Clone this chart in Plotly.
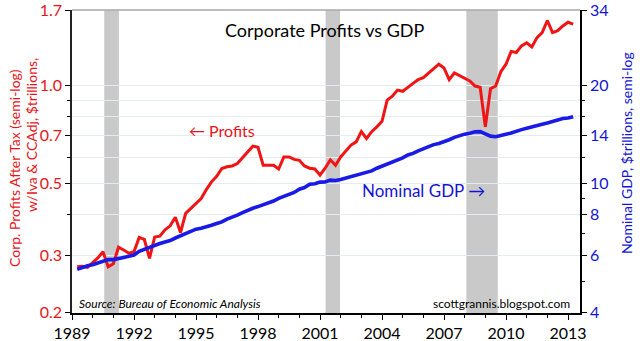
import plotly.graph_objects as go
import numpy as np

# ---------------- data ----------------
start_year = 1989.25          # first quarterly observation (plotted position)
quarter_step = 0.25

profits = [  # Corporate profits after tax w/ IVA & CCAdj, $ trillions
    0.277, 0.278, 0.276,
    0.285, 0.295, 0.308, 0.277,
    0.283, 0.318, 0.312, 0.305,
    0.308, 0.341, 0.336, 0.294,
    0.342, 0.344, 0.360, 0.370,
    0.393, 0.353, 0.404, 0.418,
    0.432, 0.449, 0.478, 0.505,
    0.525, 0.555, 0.562, 0.565,
    0.575, 0.598, 0.625, 0.650,
    0.645, 0.568, 0.568, 0.568,
    0.553, 0.602, 0.602, 0.592,
    0.588, 0.565, 0.556, 0.553,
    0.530, 0.556, 0.590, 0.568,
    0.602, 0.630, 0.655, 0.670,
    0.720, 0.686, 0.720, 0.745,
    0.775, 0.900, 0.925, 0.966,
    0.958, 0.985, 1.010, 1.040,
    1.055, 1.090, 1.125, 1.160,
    1.130, 1.040, 1.090, 1.070,
    1.055, 1.030, 0.994, 0.985,
    0.745, 0.975, 0.994, 1.100,
    1.160, 1.270, 1.260, 1.320,
    1.350, 1.310, 1.400, 1.450,
    1.580, 1.450, 1.470, 1.520,
    1.560, 1.540,
]

gdp = [  # Nominal GDP, $ trillions
    5.44, 5.52, 5.58, 5.62,
    5.70, 5.78, 5.83, 5.83,
    5.86, 5.92, 5.97, 6.02,
    6.18, 6.27, 6.35, 6.46,
    6.53, 6.60, 6.67, 6.79,
    6.89, 7.02, 7.11, 7.23,
    7.28, 7.34, 7.43, 7.52,
    7.61, 7.76, 7.85, 7.98,
    8.12, 8.26, 8.38, 8.48,
    8.58, 8.68, 8.82, 8.99,
    9.10, 9.22, 9.37, 9.59,
    9.70, 9.93, 9.97, 10.08,
    10.09, 10.22, 10.20, 10.27,
    10.37, 10.49, 10.60, 10.67,
    10.78, 10.91, 11.12, 11.27,
    11.45, 11.62, 11.78, 11.96,
    12.21, 12.35, 12.58, 12.76,
    13.00, 13.14, 13.25, 13.40,
    13.60, 13.83, 14.00, 14.15,
    14.25, 14.38, 14.40, 14.15,
    13.95, 13.89, 13.97, 14.14,
    14.27, 14.47, 14.61, 14.76,
    14.87, 15.01, 15.18, 15.32,
    15.48, 15.59, 15.81, 15.85,
    16.00,
]

recessions = [(1990.56, 1991.27), (2001.27, 2001.97), (2008.08, 2009.60)]

x_ticks = [1989, 1992, 1995, 1998, 2001, 2004, 2007, 2010, 2013]
left_ticks = [0.2, 0.3, 0.5, 0.7, 1.0, 1.7]
left_ticktext = ["0.2", "0.3", "0.5", "0.7", "1.0", "1.7"]
left_minor = [0.4, 0.6, 0.8, 0.9]
right_ticks = [4, 6, 8, 10, 14, 20, 34]
right_minor = [5, 7, 9, 12, 16, 18]

dates_p = [start_year + quarter_step * i for i in range(len(profits))]
dates_g = [start_year + quarter_step * i for i in range(len(gdp))]

# ---------------- layout helpers ----------------
W, H = 640, 341
L, R, T, B = 72, 60, 10, 28
PW, PH = W - L - R, H - T - B
def px(x):
    return (x - L) / PW
def py(y):
    return (H - B - y) / PH

EPS = 0.0004
FONT = "Lato"
RED = "#e8141a"
BLUE = "#1414d2"
GRID = "#e4ecef"

fig = go.Figure()
fig.add_trace(go.Scatter(x=dates_g, y=gdp, yaxis="y2", mode="lines",
                         line=dict(color="#1a1ae6", width=3.6), hoverinfo="skip"))
fig.add_trace(go.Scatter(x=dates_p, y=profits, yaxis="y", mode="lines",
                         line=dict(color="#f01414", width=3), hoverinfo="skip"))

for a, b in recessions:
    fig.add_shape(type="rect", xref="x", yref="paper", x0=a, x1=b, y0=0, y1=1,
                  fillcolor="#c9c9c9", line=dict(width=0), layer="between")

# top border (gray)
fig.add_shape(type="line", xref="paper", yref="paper", x0=0, x1=1, y0=1, y1=1,
              line=dict(color="#a9a9a9", width=1.5))

fig.update_layout(
    template="none",
    width=W, height=H,
    margin=dict(l=L, r=R, t=T, b=B, autoexpand=False),
    paper_bgcolor="white", plot_bgcolor="white",
    showlegend=False,
    font=dict(family=FONT),
    xaxis=dict(
        range=[1989, 2013.58], tickvals=x_ticks, ticktext=[str(v) for v in x_ticks],
        ticks="outside", ticklen=5, tickcolor="black", automargin=False,
        showline=True, linecolor="black", linewidth=1.5,
        showgrid=False, zeroline=False, ticklabeloverflow="allow",
        tickfont=dict(size=16, color="black", family=FONT),
        minor=dict(dtick=1, tick0=1989, ticks="outside", ticklen=3, tickcolor="black", showgrid=False),
    ),
    yaxis=dict(
        type="log", range=[np.log10(0.2) - EPS, np.log10(1.7) + EPS],
        tickvals=left_ticks, ticktext=left_ticktext, automargin=False,
        ticks="outside", ticklen=5, tickcolor="black",
        showline=True, linecolor="#222222", linewidth=1.5,
        showgrid=True, gridcolor=GRID, gridwidth=1,
        zeroline=False, ticklabeloverflow="allow",
        tickfont=dict(size=16, color=RED, family=FONT),
        minor=dict(tickvals=left_minor, ticks="outside", ticklen=3, tickcolor="black",
                   showgrid=True, gridcolor=GRID, gridwidth=1),
    ),
    yaxis2=dict(
        type="log", range=[np.log10(4) - EPS, np.log10(34) + EPS], overlaying="y", side="right",
        tickvals=right_ticks, ticktext=[str(v) for v in right_ticks], automargin=False,
        ticks="outside", ticklen=5, tickcolor="black",
        showline=True, linecolor="black", linewidth=1.5,
        showgrid=False, zeroline=False, ticklabeloverflow="allow",
        tickfont=dict(size=16, color=BLUE, family=FONT),
        minor=dict(tickvals=right_minor, ticks="outside", ticklen=3, tickcolor="black", showgrid=False),
    ),
)

ann = [
    dict(text="Corporate Profits vs GDP", x=px(325), y=py(30), size=18, color="black"),
    dict(text="\u2190 Profits", x=px(222), y=py(130), size=16, color=RED),
    dict(text="Nominal GDP \u2192", x=px(423), y=py(190), size=17, color=BLUE),
]
for a in ann:
    fig.add_annotation(text=a["text"], x=a["x"], y=a["y"], xref="paper", yref="paper",
                       showarrow=False, xanchor="center", yanchor="middle",
                       font=dict(size=a["size"], color=a["color"], family=FONT))

fig.add_annotation(text="<i>Source: Bureau of Economic Analysis</i>", x=px(77), y=py(303),
                   xref="paper", yref="paper", showarrow=False, xanchor="left", yanchor="middle",
                   font=dict(size=12, color="black", family=FONT))
fig.add_annotation(text="scottgrannis.blogspot.com", x=px(572), y=py(303),
                   xref="paper", yref="paper", showarrow=False, xanchor="right", yanchor="middle",
                   font=dict(size=12, color="black", family=FONT))

# axis titles
fig.add_annotation(text="Corp. Profits After Tax (semi-log)", x=px(14), y=py(168),
                   xref="paper", yref="paper", showarrow=False, textangle=-90,
                   xanchor="center", yanchor="middle", font=dict(size=14, color=RED, family=FONT))
fig.add_annotation(text="w/Iva & CCAdj, $trillions,", x=px(31), y=py(135),
                   xref="paper", yref="paper", showarrow=False, textangle=-90,
                   xanchor="center", yanchor="middle", font=dict(size=14, color=RED, family=FONT))
fig.add_annotation(text="Nominal GDP, $trillions, semi-log", x=px(626), y=py(153),
                   xref="paper", yref="paper", showarrow=False, textangle=-90,
                   xanchor="center", yanchor="middle", font=dict(size=14, color=BLUE, family=FONT))

fig.write_html("out.html")
